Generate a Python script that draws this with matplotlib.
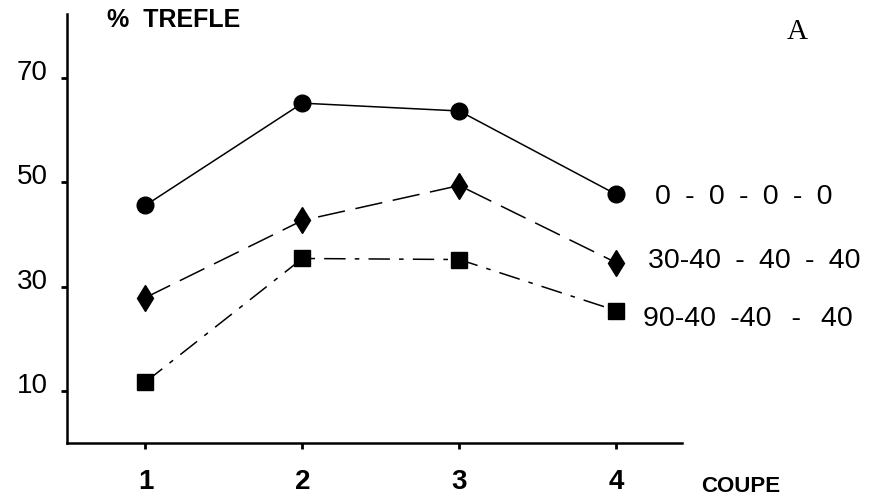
import matplotlib
matplotlib.use("Agg")
import matplotlib.pyplot as plt
import matplotlib.transforms as mtransforms

plt.rcParams["font.family"] = ["Liberation Sans", "DejaVu Sans"]

coupe = [1, 2, 3, 4]
trefle_0 = [45.6, 65.2, 63.7, 47.7]
trefle_30 = [27.9, 42.7, 49.4, 34.6]
trefle_90 = [11.7, 35.4, 35.2, 25.4]
# en/thin spaces reproduce the wide spacing of the original lettering
series_labels = ["0\u2002-\u20020\u2002-\u20020\u2002-\u20020",
                 "30-40\u2002-\u200240\u2002-\u200240",
                 "90-40\u2002-40\u2002\u2009-\u2002\u200940"]
yticks = [10, 30, 50, 70]

fig = plt.figure(figsize=(8.75, 4.99), dpi=100)
ax = fig.add_axes([0.0766, 0.1122, 0.7029, 0.8597])

ax.plot(coupe, trefle_0, color="k", lw=1.1, ls="-", marker="o", ms=12)
ax.plot(coupe, trefle_30, color="k", lw=1.1, ls=(0, (18, 7)), marker="d", ms=13)
ax.plot(coupe, trefle_90, color="k", lw=1.1, ls=(0, (14, 6, 3, 6)), marker="s", ms=11)

# curve labels right of the last cut, offsets in points
label_offsets = [(28, 0), (23, 3.6), (19.5, -3.6)]
for ys, lab, off in zip([trefle_0, trefle_30, trefle_90], series_labels, label_offsets):
    ax.annotate(lab, xy=(coupe[-1], ys[-1]), xytext=off,
                textcoords="offset points", va="center_baseline", ha="left",
                fontsize=20.5, annotation_clip=False)

ax.set_xlim(0.5, 4.42)
ax.set_ylim(0, 82.3)
ax.set_xticks(coupe)
ax.set_yticks(yticks)
ax.set_xticklabels([str(c) for c in coupe], fontsize=20, fontweight="bold")
ax.set_yticklabels([str(t) for t in yticks], fontsize=20)
ax.tick_params(axis="both", direction="out", length=4, width=2, color="k")
ax.tick_params(axis="x", pad=15)
ax.tick_params(axis="y", pad=10)
offset = mtransforms.ScaledTranslation(0, 8 / 100, fig.dpi_scale_trans)
for lbl in ax.get_yticklabels():
    lbl.set_transform(lbl.get_transform() + offset)

for side in ["top", "right"]:
    ax.spines[side].set_visible(False)
for side in ["left", "bottom"]:
    ax.spines[side].set_linewidth(1.8)

fig.text(107 / 875, 1 - 20 / 499, "%  TREFLE", fontsize=18, fontweight="bold",
         ha="left", va="center")
fig.text(797 / 875, 1 - 32 / 499, "A", fontsize=21, family="Liberation Serif",
         ha="center", va="center")
fig.text(701 / 875, 1 - 486 / 499, "COUPE", fontsize=16, fontweight="bold",
         ha="left", va="center")

fig.savefig("out.png", dpi=100)
